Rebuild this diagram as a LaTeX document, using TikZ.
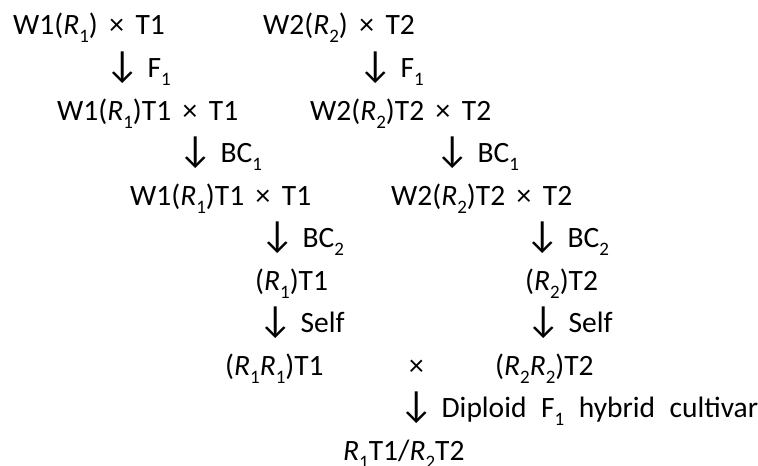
\documentclass[tikz,border=0pt]{standalone}
\usepackage{fontspec}
\setmainfont{Carlito}
\newcommand{\sbs}[1]{\raisebox{-0.27em}{\fontsize{19}{19}\selectfont #1}}
\newcommand{\Rr}[1]{\textit{R}\sbs{#1}}
\newcommand{\dn}{{\fontsize{38}{38}\selectfont ↓}\hspace{8pt}}
\newcommand{\lblfont}{\fontsize{29.5}{34}\selectfont\setlength{\spaceskip}{11.5pt}}
\begin{document}
\begin{tikzpicture}[x=1pt,y=1pt,
  lbl/.style={anchor=base west,inner sep=0pt,font=\lblfont,text=black}]
\useasboundingbox (0,0) rectangle (758,466);
\node[lbl] (a1) at (13,431) {W1(\Rr{1}) × T1};
\node[lbl] (b1) at (263,431) {W2(\Rr{2}) × T2};
\node[lbl] (a2) at (105,388.45) {\dn F\sbs{1}};
\node[lbl] (b2) at (358,388.45) {\dn F\sbs{1}};
\node[lbl] (a3) at (57,345.9) {W1(\Rr{1})T1 × T1};
\node[lbl] (b3) at (310,345.9) {W2(\Rr{2})T2 × T2};
\node[lbl] (a4) at (178,303.35) {\dn BC\sbs{1}};
\node[lbl] (b4) at (435,303.35) {\dn BC\sbs{1}};
\node[lbl] (a5) at (130,260.8) {W1(\Rr{1})T1 × T1};
\node[lbl] (b5) at (391,260.8) {W2(\Rr{2})T2 × T2};
\node[lbl] (a6) at (260,218.25) {\dn BC\sbs{2}};
\node[lbl] (b6) at (525,218.25) {\dn BC\sbs{2}};
\node[lbl] (a7) at (255,175.7) {(\Rr{1})T1};
\node[lbl] (b7) at (525,175.7) {(\Rr{2})T2};
\node[lbl] (a8) at (258,133.15) {\dn Self};
\node[lbl] (b8) at (526,133.15) {\dn Self};
\node[lbl] (a9) at (225,90.6) {(\Rr{1}\Rr{1})T1};
\node[lbl] (x9) at (409,90.6) {×};
\node[lbl] (b9) at (495,90.6) {(\Rr{2}\Rr{2})T2};
\node[lbl] (c10) at (399,48.05) {\setlength{\spaceskip}{14.5pt}\dn Diploid F\sbs{1} hybrid cultivar};
\node[lbl] (c11) at (343,5.5) {\Rr{1}T1/\Rr{2}T2};
\end{tikzpicture}
\end{document}
